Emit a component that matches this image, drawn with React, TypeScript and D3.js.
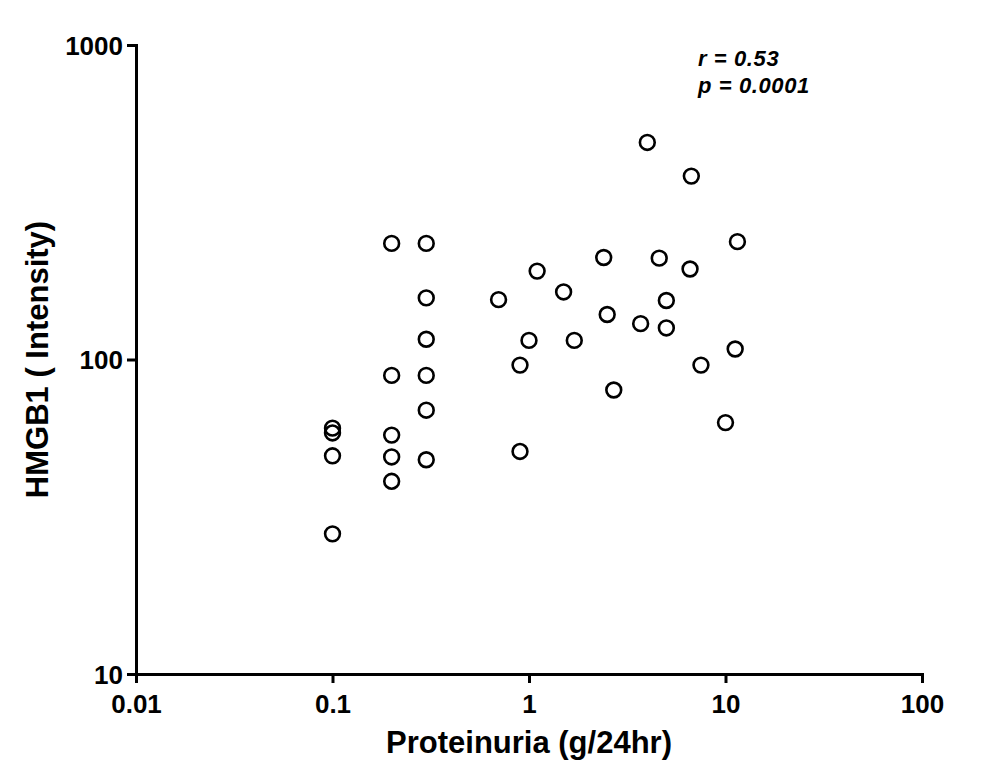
import React, { useEffect, useRef } from "react";
import * as d3 from "d3";

// Proteinuria (g/24hr) vs HMGB1 intensity
const proteinuria = [
  0.1, 0.1, 0.1, 0.1,
  0.2, 0.2, 0.2, 0.2, 0.2,
  0.3, 0.3, 0.3, 0.3, 0.3, 0.3,
  0.7, 0.9, 0.9, 1.0, 1.1, 1.5, 1.7, 2.4, 2.5, 2.7, 3.7, 4.0,
  4.6, 5.0, 5.0, 6.6, 6.7, 7.5, 10, 11.2, 11.5,
];
const hmgb1 = [
  60.5, 58.4, 49.4, 27.9,
  234, 89, 57.5, 49, 41,
  234, 157, 116, 89, 69, 48,
  155, 96, 51, 115, 191, 164, 115, 211, 139, 80, 130, 490,
  210, 154, 126, 194, 383, 96, 63, 108, 237,
];

const xTicks = [0.01, 0.1, 1, 10, 100];
const yTicks = [10, 100, 1000];
const statLines = ["r = 0.53", "p = 0.0001"];

const font = "'Liberation Sans', Arial, sans-serif";

const App: React.FC = () => {
  const svgRef = useRef<SVGSVGElement | null>(null);

  useEffect(() => {
    if (!svgRef.current) return;
    const svg = d3.select(svgRef.current);
    svg.selectAll("*").remove();

    const width = 1004;
    const height = 780;
    const margin = { top: 45, right: 82, bottom: 106, left: 136 };

    const x = d3
      .scaleLog()
      .domain([0.01, 100])
      .range([margin.left, width - margin.right]);
    const y = d3
      .scaleLog()
      .domain([10, 1000])
      .range([height - margin.bottom, margin.top]);

    const xAxis = d3
      .axisBottom(x)
      .tickValues(xTicks)
      .tickFormat((d) => String(d))
      .tickSizeOuter(0)
      .tickSize(9)
      .tickPadding(5);
    const yAxis = d3
      .axisLeft(y)
      .tickValues(yTicks)
      .tickFormat((d) => String(d))
      .tickSizeOuter(0)
      .tickSize(9)
      .tickPadding(4);

    const gx = svg
      .append("g")
      .attr("transform", `translate(0,${height - margin.bottom})`)
      .call(xAxis);
    const gy = svg
      .append("g")
      .attr("transform", `translate(${margin.left},0)`)
      .call(yAxis);

    [gx, gy].forEach((g) => {
      g.select(".domain").attr("stroke", "#000").attr("stroke-width", 3);
      g.selectAll(".tick line").attr("stroke", "#000").attr("stroke-width", 3);
      g.selectAll(".tick text")
        .attr("fill", "#000")
        .style("font-family", font)
        .style("font-weight", "bold")
        .style("font-size", "26px");
    });
    gx.selectAll(".tick text").attr("dy", "0.95em");
    gy.selectAll(".tick text").attr("dy", "0.36em");

    // points
    svg
      .append("g")
      .selectAll("circle")
      .data(proteinuria.map((p, i) => [p, hmgb1[i]] as [number, number]))
      .join("circle")
      .attr("cx", (d) => x(d[0]))
      .attr("cy", (d) => y(d[1]))
      .attr("r", 7.4)
      .attr("fill", "none")
      .attr("stroke", "#000")
      .attr("stroke-width", 2.6);

    // axis titles
    svg
      .append("text")
      .attr("x", (x(0.01) + x(100)) / 2)
      .attr("y", 753)
      .attr("text-anchor", "middle")
      .style("font-family", font)
      .style("font-weight", "bold")
      .style("font-size", "31px")
      .text("Proteinuria (g/24hr)");

    svg
      .append("text")
      .attr("transform", `translate(48,${(y(10) + y(1000)) / 2}) rotate(-90)`)
      .attr("text-anchor", "middle")
      .style("font-family", font)
      .style("font-weight", "bold")
      .style("font-size", "31px")
      .text("HMGB1 ( Intensity)");

    // correlation stats
    svg
      .append("g")
      .selectAll("text")
      .data(statLines)
      .join("text")
      .attr("x", 698)
      .attr("y", (_, i) => 66 + i * 27)
      .style("font-family", font)
      .style("font-weight", "bold")
      .style("font-style", "italic")
      .style("font-size", "22px")
      .style("letter-spacing", "0.6px")
      .text((d) => d);
  }, []);

  return (
    <div style={{ position: "absolute", left: 0, top: 0, background: "#fff" }}>
      <svg ref={svgRef} width={1004} height={780} style={{ display: "block" }} />
    </div>
  );
};

export default App;
